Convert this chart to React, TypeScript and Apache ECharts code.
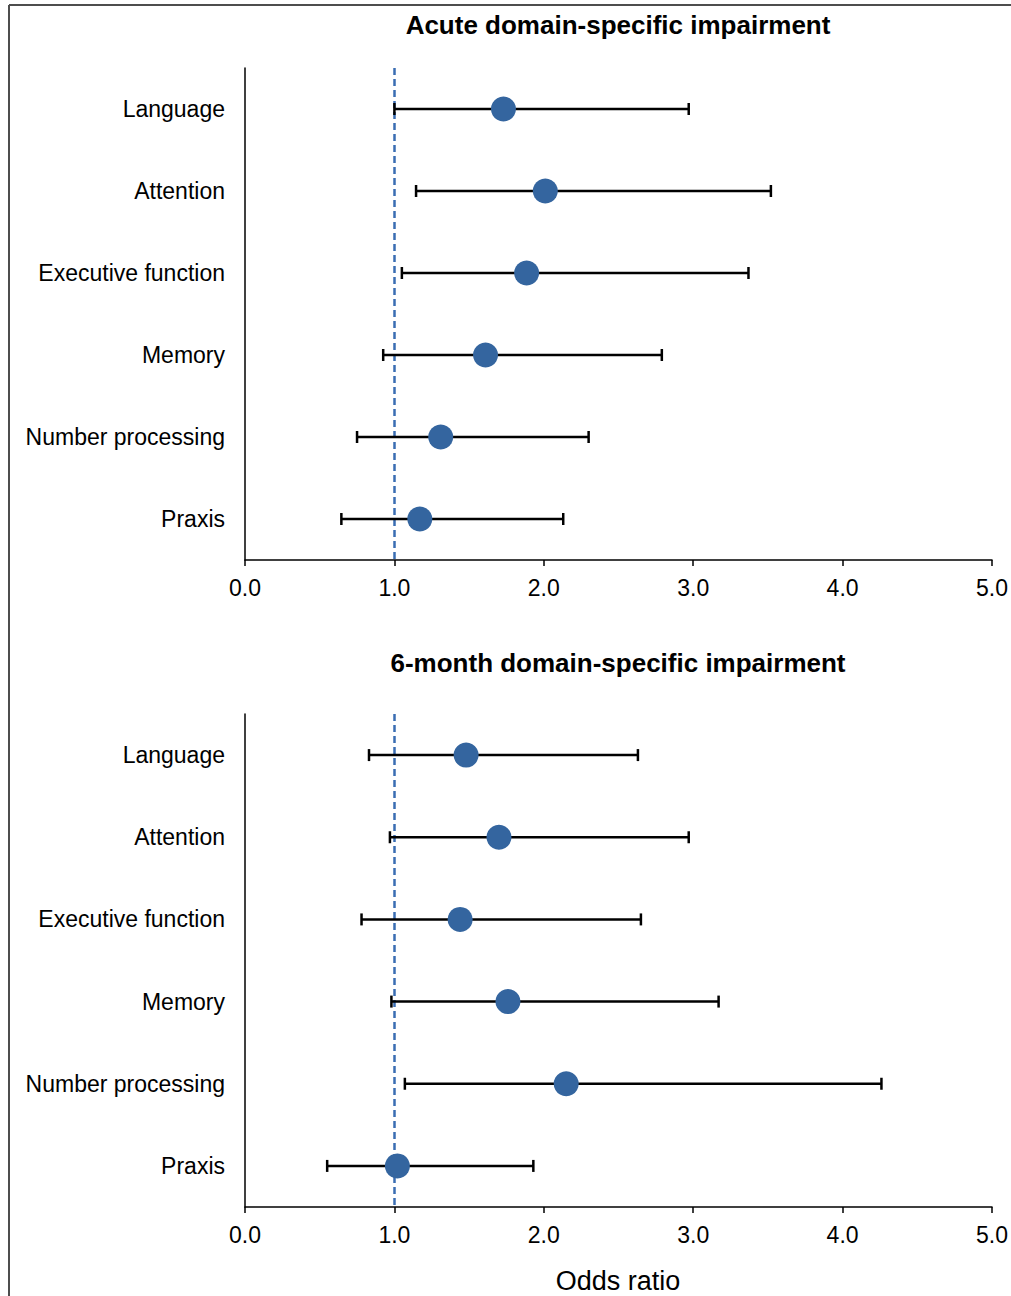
import React, { useEffect, useRef } from "react";
import * as echarts from "echarts";

const categories = ["Language", "Attention", "Executive function", "Memory", "Number processing", "Praxis"];
const acuteOR = [1.73, 2.01, 1.885, 1.61, 1.31, 1.17];
const acuteLower = [1.0, 1.145, 1.05, 0.925, 0.75, 0.645];
const acuteUpper = [2.97, 3.52, 3.37, 2.79, 2.3, 2.13];
const monthOR = [1.48, 1.7, 1.44, 1.76, 2.15, 1.02];
const monthLower = [0.83, 0.97, 0.78, 0.98, 1.07, 0.55];
const monthUpper = [2.63, 2.97, 2.65, 3.17, 4.26, 1.93];
const panelTitles = ["Acute domain-specific impairment", "6-month domain-specific impairment"];
const xTicks = { min: 0, max: 5, interval: 1 };
const xAxisTitle = "Odds ratio";

const FONT = "Liberation Sans, Arial, sans-serif";
const DOT = "#34659f";

export default function App() {
  const ref = useRef<HTMLDivElement>(null);
  useEffect(() => {
    if (!ref.current) return;
    const chart = echarts.init(ref.current, null, { renderer: "svg" });
    const grids = [
      { left: 245, right: 19, top: 68, height: 492 },
      { left: 245, right: 19, top: 714, height: 493 },
    ];
    const xAxes = grids.map((_, i) => ({
      type: "value",
      gridIndex: i,
      min: xTicks.min,
      max: xTicks.max,
      interval: xTicks.interval,
      axisLine: { show: true, lineStyle: { color: "#000", width: 1.5 } },
      axisTick: { show: true, length: 6, lineStyle: { color: "#000", width: 1.5 } },
      axisLabel: {
        color: "#000",
        fontSize: 23,
        fontFamily: FONT,
        margin: 16,
        formatter: (v: number) => v.toFixed(1),
      },
      splitLine: { show: false },
    }));
    const yAxes = grids.map((_, i) => ({
      type: "category",
      gridIndex: i,
      data: categories,
      inverse: true,
      boundaryGap: true,
      axisLine: { show: true, lineStyle: { color: "#000", width: 1.5 } },
      axisTick: { show: false },
      axisLabel: { color: "#000", fontSize: 23, fontFamily: FONT, margin: 20 },
      splitLine: { show: false },
    }));
    const sets = [
      { or: acuteOR, lo: acuteLower, hi: acuteUpper },
      { or: monthOR, lo: monthLower, hi: monthUpper },
    ];
    const series: any[] = [];
    sets.forEach((s, i) => {
      series.push({
        type: "custom",
        xAxisIndex: i,
        yAxisIndex: i,
        data: categories.map((c, k) => [s.lo[k], s.hi[k], k]),
        encode: { x: [0, 1], y: 2 },
        renderItem: (params: any, api: any) => {
          const y = api.value(2);
          const a = api.coord([api.value(0), y]);
          const b = api.coord([api.value(1), y]);
          const h = 6;
          const st = { stroke: "#000", lineWidth: 2.5 };
          return {
            type: "group",
            children: [
              { type: "line", shape: { x1: a[0], y1: a[1], x2: b[0], y2: b[1] }, style: st },
              { type: "line", shape: { x1: a[0], y1: a[1] - h, x2: a[0], y2: a[1] + h }, style: st },
              { type: "line", shape: { x1: b[0], y1: b[1] - h, x2: b[0], y2: b[1] + h }, style: st },
            ],
          };
        },
        z: 2,
      });
      series.push({
        type: "scatter",
        xAxisIndex: i,
        yAxisIndex: i,
        data: categories.map((c, k) => [s.or[k], k]),
        symbol: "circle",
        symbolSize: 25,
        itemStyle: { color: DOT, opacity: 1 },
        z: 4,
        markLine: {
          silent: true,
          symbol: "none",
          label: { show: false },
          lineStyle: { color: "#3a6db3", width: 2.5, type: [7, 4] },
          data: [{ xAxis: 1 }],
          z: 1,
        },
      });
    });
    chart.setOption({
      animation: false,
      backgroundColor: "#fff",
      grid: grids,
      xAxis: xAxes,
      yAxis: yAxes,
      series,
      graphic: [
        { type: "line", shape: { x1: 9, y1: 5, x2: 1011, y2: 5 }, style: { stroke: "#4d4d4d", lineWidth: 2 } },
        { type: "line", shape: { x1: 9, y1: 5, x2: 9, y2: 1296 }, style: { stroke: "#4d4d4d", lineWidth: 2 } },
        {
          type: "text",
          x: 618,
          y: 25,
          style: { text: panelTitles[0], fontSize: 26, fontWeight: "bold", fontFamily: FONT, fill: "#000", textAlign: "center", textVerticalAlign: "middle" },
        },
        {
          type: "text",
          x: 618,
          y: 663,
          style: { text: panelTitles[1], fontSize: 26, fontWeight: "bold", fontFamily: FONT, fill: "#000", textAlign: "center", textVerticalAlign: "middle" },
        },
        {
          type: "text",
          x: 618,
          y: 1281,
          style: { text: xAxisTitle, fontSize: 27, fontFamily: FONT, fill: "#000", textAlign: "center", textVerticalAlign: "middle" },
        },
      ],
    });
    return () => chart.dispose();
  }, []);
  return <div ref={ref} style={{ position: "absolute", left: 0, top: 0, width: 1011, height: 1296 }} />;
}
